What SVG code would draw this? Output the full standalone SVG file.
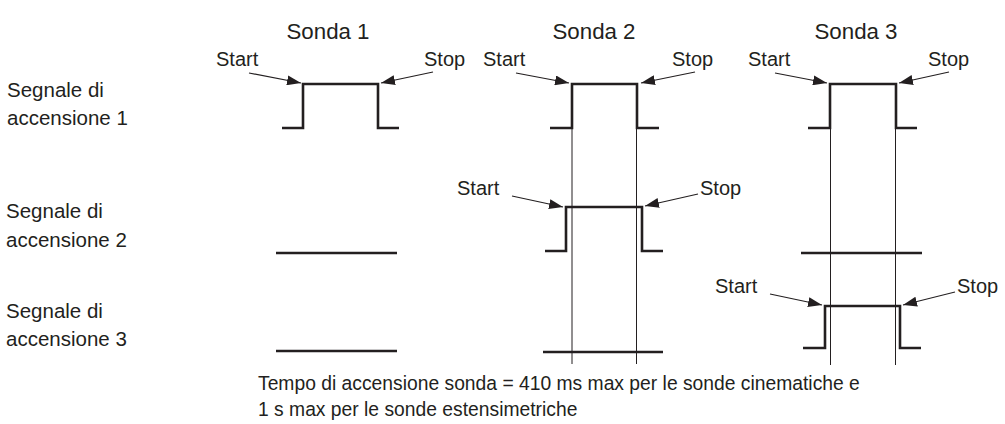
<svg xmlns="http://www.w3.org/2000/svg" width="1005" height="424" viewBox="0 0 1005 424">
  <style>
    text { font-family: "Liberation Sans", Arial, sans-serif; fill: #231f20; }
    .title { font-size: 22.3px; text-anchor: middle; }
    .label { font-size: 20.5px; }
    .tag { font-size: 20px; }
    .note { font-size: 19.3px; }
    .sig { fill: none; stroke: #231f20; stroke-width: 2.6; stroke-linejoin: miter; }
    .guide { fill: none; stroke: #231f20; stroke-width: 1; }
    .arrow { fill: none; stroke: #231f20; stroke-width: 1.2; marker-end: url(#ah); }
  </style>
  <defs>
    <marker id="ah" viewBox="0 0 14 10" refX="14" refY="5" markerWidth="14" markerHeight="10" markerUnits="userSpaceOnUse" orient="auto">
      <path d="M0,0 L14,5 L0,10 z" fill="#231f20"/>
    </marker>
  </defs>
  <rect width="1005" height="424" fill="#ffffff"/>

  <!-- column headings -->
  <g id="headings">
    <text class="title" x="328" y="39">Sonda 1</text>
    <text class="title" x="594" y="39">Sonda 2</text>
    <text class="title" x="856" y="39">Sonda 3</text>
  </g>

  <!-- row labels -->
  <g id="row-labels">
    <text class="label" x="7" y="97">Segnale di</text>
    <text class="label" x="7" y="125">accensione 1</text>
    <text class="label" x="6" y="218">Segnale di</text>
    <text class="label" x="6" y="247">accensione 2</text>
    <text class="label" x="6" y="318">Segnale di</text>
    <text class="label" x="6" y="346">accensione 3</text>
  </g>

  <!-- timing guides across probes 2 and 3 -->
  <g id="guides">
    <line class="guide" x1="572" y1="120" x2="572" y2="364"/>
    <line class="guide" x1="636.5" y1="120" x2="636.5" y2="364"/>
    <line class="guide" x1="830.5" y1="120" x2="830.5" y2="365"/>
    <line class="guide" x1="895.5" y1="120" x2="895.5" y2="365"/>
  </g>

  <!-- signal 1 -->
  <g id="s1-probe1">
    <path class="sig" d="M282,128 H303 V84 H378 V128 H399"/>
    <text class="tag" x="216" y="66">Start</text>
    <text class="tag" x="424" y="66">Stop</text>
  </g>
  <g id="s1-probe2">
    <path class="sig" d="M550,128 H572 V84 H637 V128 H659"/>
    <text class="tag" x="483" y="66">Start</text>
    <text class="tag" x="672" y="66">Stop</text>
  </g>
  <g id="s1-probe3">
    <path class="sig" d="M808,128 H830 V84 H896 V128 H917"/>
    <text class="tag" x="748" y="66">Start</text>
    <text class="tag" x="928" y="66">Stop</text>
  </g>

  <!-- signal 2 -->
  <g id="s2-probe1">
    <path class="sig" d="M276,253 H397"/>
  </g>
  <g id="s2-probe2">
    <path class="sig" d="M545,251 H566 V207 H642 V251 H663"/>
    <text class="tag" x="457" y="195">Start</text>
    <text class="tag" x="700" y="195">Stop</text>
  </g>
  <g id="s2-probe3">
    <path class="sig" d="M801,253 H922"/>
  </g>

  <!-- signal 3 -->
  <g id="s3-probe1">
    <path class="sig" d="M276,351 H397"/>
  </g>
  <g id="s3-probe2">
    <path class="sig" d="M543,352 H663"/>
  </g>
  <g id="s3-probe3">
    <path class="sig" d="M803,348 H825 V306 H900 V348 H921"/>
    <text class="tag" x="715" y="293">Start</text>
    <text class="tag" x="957" y="293">Stop</text>
  </g>

  <!-- start/stop pointers -->
  <g id="connectors">
    <path class="arrow" d="M249,73 L301,83"/>
    <path class="arrow" d="M433,72 L381,83"/>
    <path class="arrow" d="M516,73 L569,83"/>
    <path class="arrow" d="M695,72 L641,83"/>
    <path class="arrow" d="M775,73 L827,83"/>
    <path class="arrow" d="M949,72 L899,83"/>
    <path class="arrow" d="M512,196 L563,207"/>
    <path class="arrow" d="M698,194 L645,206"/>
    <path class="arrow" d="M770,294 L822,305"/>
    <path class="arrow" d="M955,292 L903,305"/>
  </g>

  <!-- footnote -->
  <g id="footnote">
    <text class="note" x="258" y="390">Tempo di accensione sonda = 410 ms max per le sonde cinematiche e</text>
    <text class="note" x="258" y="416">1 s max per le sonde estensimetriche</text>
  </g>
</svg>
